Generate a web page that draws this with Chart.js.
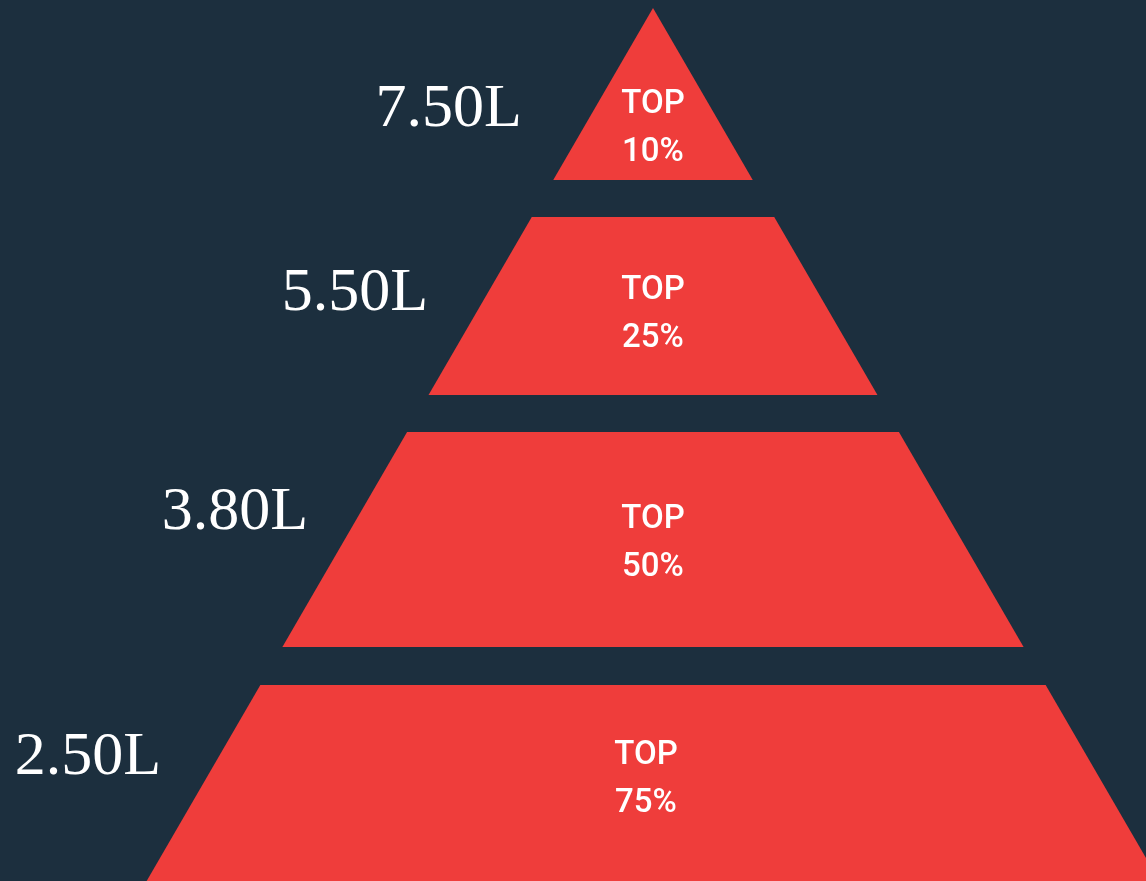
<!DOCTYPE html>
<html>
<head>
<meta charset="utf-8">
<script src="https://cdn.jsdelivr.net/npm/chart.js@4/dist/chart.umd.min.js"></script>
<style>
  html, body { margin: 0; padding: 0; background: #1c2f3e; overflow: hidden; }
  #wrap { width: 1146px; height: 881px; }
</style>
</head>
<body>
<div id="wrap"><canvas id="pyramid-chart-canvas" width="1146" height="881"></canvas></div>
<script>
// values per tier, top of pyramid first
const amounts = [7.50, 5.50, 3.80, 2.50];
const topPercents = [10, 25, 50, 75];

// pyramid geometry (in reference units, x 0..1146, y 0..881 from the top)
const apexX = 653, apexY = 8, slope = 0.58;
const tierTop = [8, 217, 432, 685];
const tierBottom = [180, 395, 647, 900];
// where the texts sit inside each tier (offset from tier top)
const innerOffset = [121, 98, 112, 95];
const innerShift = [0, 0, 0, -7];
const sideOffset = [102, 77, 81, 73];
const sideGap = [72, 59, 52, 57];

const halfWidth = y => (y - apexY) * slope;

const tierShape = i => {
    const t = tierTop[i], b = tierBottom[i];
    return [
        { x: apexX - halfWidth(t), y: t },
        { x: apexX + halfWidth(t), y: t },
        { x: apexX + halfWidth(b), y: b },
        { x: apexX - halfWidth(b), y: b }
    ];
};

const labelPlugin = {
    id: 'tierLabels',
    afterDatasetsDraw(chart) {
        const ctx = chart.ctx;
        const xs = chart.scales.x, ys = chart.scales.y;
        ctx.save();
        ctx.fillStyle = '#ffffff';
        amounts.forEach((v, i) => {
            // amount on the left
            const sy = tierTop[i] + sideOffset[i];
            const sx = apexX - halfWidth(sy) - sideGap[i];
            ctx.font = '62px "Liberation Serif", serif';
            ctx.textAlign = 'right';
            ctx.textBaseline = 'middle';
            ctx.fillText(v.toFixed(2) + 'L', xs.getPixelForValue(sx), ys.getPixelForValue(sy));
            // TOP xx% inside
            const cy = tierTop[i] + innerOffset[i];
            const cx = apexX + innerShift[i];
            ctx.font = '500 33px Roboto, sans-serif';
            ctx.textAlign = 'center';
            ctx.fillText('TOP', xs.getPixelForValue(cx), ys.getPixelForValue(cy - 24));
            ctx.fillText(topPercents[i] + '%', xs.getPixelForValue(cx), ys.getPixelForValue(cy + 24));
        });
        ctx.restore();
    }
};

const pyramid = new Chart(document.getElementById('pyramid-chart-canvas'), {
    type: 'scatter',
    data: {
        datasets: amounts.map((v, i) => ({
            label: topPercents[i] + '%',
            data: tierShape(i),
            showLine: true,
            fill: 'shape',
            backgroundColor: '#ef3d3b',
            borderColor: '#ef3d3b',
            borderWidth: 0,
            pointRadius: 0,
            tension: 0
        }))
    },
    options: {
        responsive: false,
        animation: false,
        layout: { padding: 0 },
        plugins: { legend: { display: false }, tooltip: { enabled: false } },
        scales: {
            x: { type: 'linear', min: 0, max: 1146, display: false },
            y: { type: 'linear', min: 0, max: 881, reverse: true, display: false }
        }
    },
    plugins: [labelPlugin]
});
</script>
</body>
</html>
